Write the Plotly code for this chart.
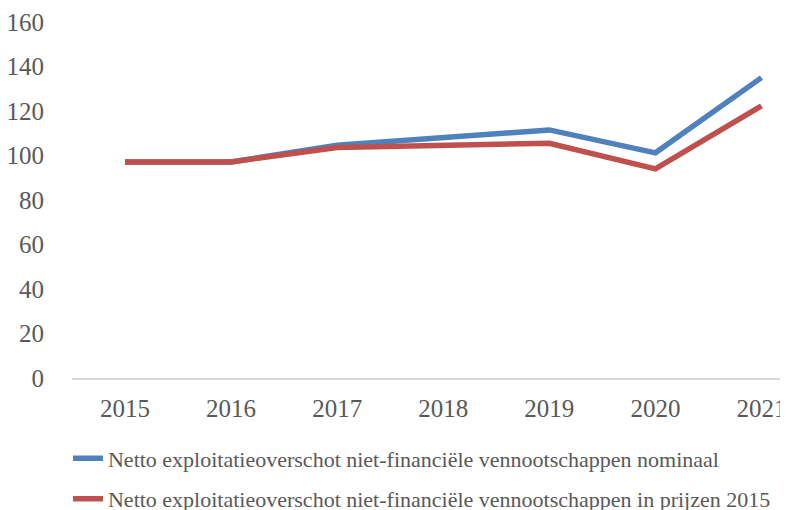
import plotly.graph_objects as go

years = ["2015", "2016", "2017", "2018", "2019", "2020", "2021"]
nominaal = [97.1, 97.1, 104.6, 108.0, 111.5, 101.2, 135.0]
prijzen2015 = [97.1, 97.1, 103.6, 104.4, 105.5, 94.0, 122.3]
series_names = [
    "Netto exploitatieoverschot niet-financiële vennootschappen nominaal",
    "Netto exploitatieoverschot niet-financiële vennootschappen in prijzen 2015",
]
y_ticks = [0, 20, 40, 60, 80, 100, 120, 140, 160]

FONT = "Liberation Serif"
fig = go.Figure()
fig.add_trace(go.Scatter(x=years, y=nominaal, mode="lines", name=series_names[0],
                         line=dict(color="#4F81BD", width=5.5), legendgroup="a"))
fig.add_trace(go.Scatter(x=years, y=prijzen2015, mode="lines", name=series_names[1],
                         line=dict(color="#C0504D", width=5.5), legendgroup="b"))

# the page body adds an 8px offset, so the figure is 780x502
fig.update_layout(
    width=780, height=502,
    margin=dict(l=64, r=0, t=14, b=132, autoexpand=False),
    paper_bgcolor="white", plot_bgcolor="white",
    font=dict(family=FONT, color="#595959"),
    showlegend=True,
    legend=dict(xref="container", yref="container", x=0.0769, xanchor="left",
                y=0.1445, yanchor="top",
                font=dict(family=FONT, size=22, color="#595959"),
                tracegroupgap=9, bgcolor="rgba(0,0,0,0)"),
    xaxis=dict(type="category", range=[-0.5, 6.25], showgrid=False, automargin=False,
               showline=True, linecolor="#d9d9d9", linewidth=1.5,
               ticks="outside", ticklen=7, tickcolor="rgba(0,0,0,0)",
               tickfont=dict(family=FONT, size=25, color="#595959")),
    yaxis=dict(range=[0, 160], tickvals=y_ticks, showgrid=False, zeroline=False,
               automargin=False,
               showline=False, ticks="outside", ticklen=22, tickcolor="rgba(0,0,0,0)",
               tickfont=dict(family=FONT, size=25, color="#595959")),
)

fig.write_html("out.html")
